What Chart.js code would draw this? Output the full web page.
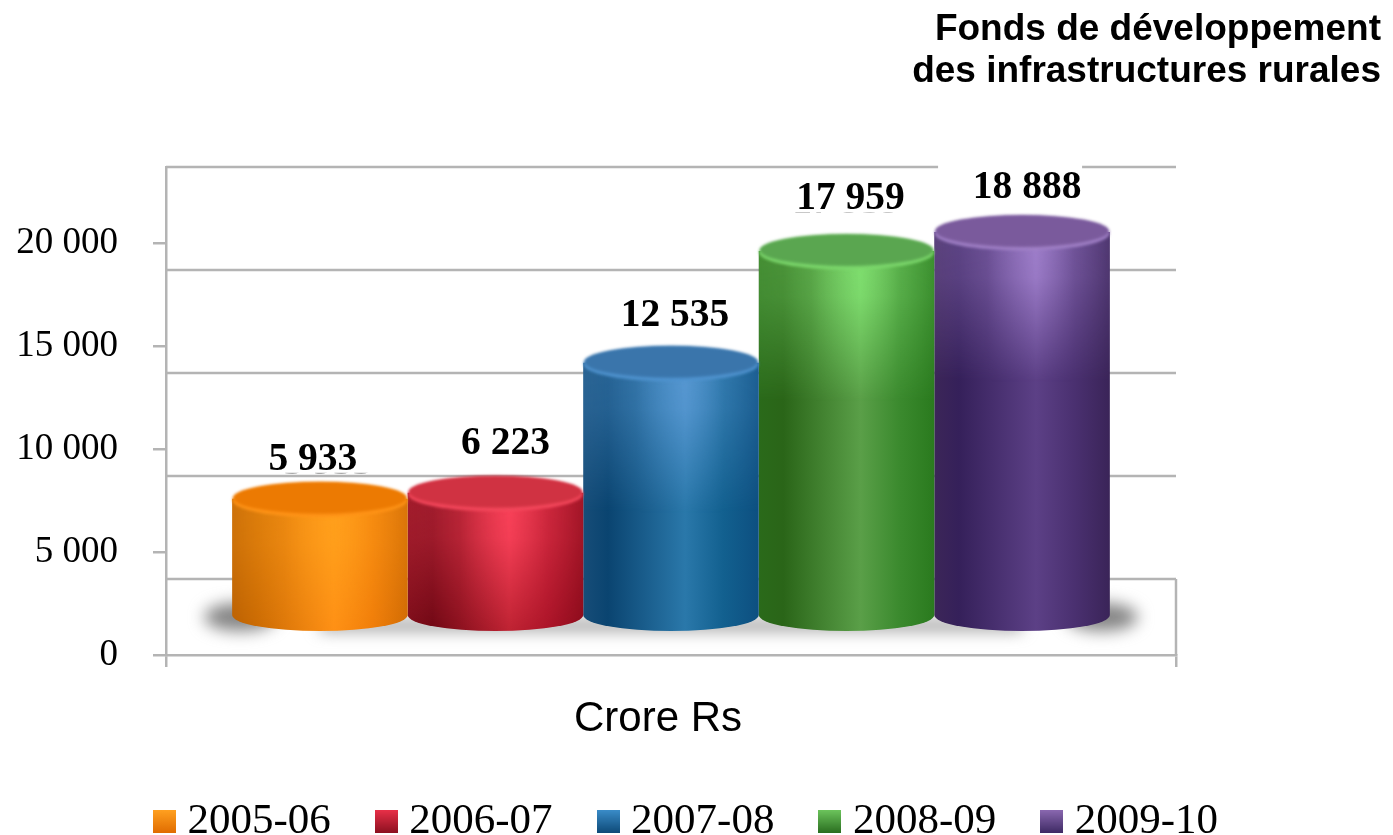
<!DOCTYPE html>
<html lang="fr">
<head>
<meta charset="utf-8">
<style>html,body{margin:0;padding:0;background:#fff}canvas{display:block}</style>
<script src="https://cdn.jsdelivr.net/npm/chart.js@4"></script>
</head>
<body>
<canvas id="c" width="1393" height="835"></canvas>
<script>
const categories = ['Crore Rs'];
const years = ['2005-06', '2006-07', '2007-08', '2008-09', '2009-10'];
const values = [5933, 6223, 12535, 17959, 18888];
const yTickValues = [0, 5000, 10000, 15000, 20000];
const chartTitle = ['Fonds de développement', 'des infrastructures rurales'];

const axisColor = '#b4b4b4';
const serif = '"Liberation Serif"';
const sans = '"Liberation Sans"';
const fmt = v => String(v).replace(/\B(?=(\d{3})+$)/g, ' ');

// Cylinder look for each series
const looks = [
  {stops:['#b85e02','#c86802','#ff8e14','#f07c08','#d06a04'], glow:'255,160,28', top:'#ec7a02', rim:'#ff9418', chip:['#ffa020','#e06c00'], lx:-7, ly:-39},
  {stops:['#7a0c18','#6c0612','#b8202f','#a81226','#8a0a1a'], glow:'250,66,90', top:'#d03242', rim:'#f4485c', chip:['#e83048','#8c1020'], lx:10, ly:-49},
  {stops:['#174d78','#0a4470','#2a78aa','#12608f','#0d4f80'], glow:'88,152,210', top:'#3a75ab', rim:'#4f93cf', chip:['#3a8cc8','#0e4a78'], lx:4, ly:-47},
  {stops:['#2a6a1a','#2a6518','#5a9f48','#3b8a2e','#2a7a1e'], glow:'128,224,112', top:'#5aa650', rim:'#7cd86c', chip:['#6cc45c','#2a6e20'], lx:4, ly:-52},
  {stops:['#3c2658','#35205a','#5c4086','#4a3070','#3a2458'], glow:'160,128,204', top:'#7a5a9c', rim:'#a080c6', chip:['#8a68b0','#3e2a64'], lx:5, ly:-44}
];
const stopAt = [0, .14, .58, .8, 1];
const glowStops = [[0,.32],[.3,.45],[.58,1],[.8,.45],[1,.22]];
const lift = 34, wallShift = 76, capRy = 17, baseRy = 16, glowDepth = 150;

function chip(cols){
  const c = document.createElement('canvas'); c.width = 23; c.height = 23;
  const g = c.getContext('2d');
  const gr = g.createLinearGradient(0,0,0,23);
  gr.addColorStop(0, cols[0]); gr.addColorStop(1, cols[1]);
  g.fillStyle = gr; g.fillRect(0,0,23,23);
  return c;
}

// vertical band of light that fades away from the cap
function glowLayer(w, lk){
  const c = document.createElement('canvas');
  c.width = Math.ceil(w); c.height = glowDepth;
  const g = c.getContext('2d');
  const h = g.createLinearGradient(0, 0, w, 0);
  glowStops.forEach(([p, a]) => h.addColorStop(p, 'rgba(' + lk.glow + ',' + a + ')'));
  g.fillStyle = h; g.fillRect(0, 0, c.width, c.height);
  g.globalCompositeOperation = 'destination-in';
  const v = g.createLinearGradient(0, 0, 0, glowDepth);
  v.addColorStop(0, 'rgba(0,0,0,1)');
  v.addColorStop(.3, 'rgba(0,0,0,.9)');
  v.addColorStop(1, 'rgba(0,0,0,0)');
  g.fillStyle = v; g.fillRect(0, 0, c.width, c.height);
  return c;
}

const cylinders = {
  id: 'cylinders',
  beforeDatasetsDraw(chart){
    const {ctx, chartArea:a, scales:{y}} = chart;
    ctx.save();
    // back wall
    ctx.strokeStyle = axisColor; ctx.lineWidth = 2.5;
    yTickValues.forEach(v => {
      const py = y.getPixelForValue(v) - wallShift;
      ctx.beginPath(); ctx.moveTo(a.left, py); ctx.lineTo(a.right, py); ctx.stroke();
    });
    const floor = y.getPixelForValue(0);
    ctx.beginPath(); ctx.moveTo(a.right, floor - wallShift); ctx.lineTo(a.right, floor); ctx.stroke();
    // floor shadow
    const m0 = chart.getDatasetMeta(0).data[0], m4 = chart.getDatasetMeta(4).data[0];
    ctx.filter = 'blur(8px)';
    ctx.fillStyle = '#848484';
    ctx.beginPath();
    ctx.ellipse(m0.x - m0.width/2 + 8, floor - 38, 36, 14, 0, 0, Math.PI*2);
    ctx.ellipse(m4.x + m4.width/2 - 8, floor - 38, 36, 14, 0, 0, Math.PI*2);
    ctx.fill();
    ctx.fillRect(m0.x, floor - 34, m4.x - m0.x, 9);
    ctx.filter = 'none';
    ctx.restore();
    chart.data.datasets.forEach((d, i) => {
      const el = chart.getDatasetMeta(i).data[0];
      el.options = Object.assign({}, el.options, {backgroundColor: sideGradient(ctx, el, looks[i])});
    });
    ctx.save();
    ctx.translate(0, -lift);
  },
  afterDatasetsDraw(chart){
    const {ctx} = chart;
    ctx.restore();
    chart.data.datasets.forEach((d, i) => {
      const el = chart.getDatasetMeta(i).data[0], lk = looks[i];
      const rx = el.width/2, cx = el.x, top = el.y - lift, bot = el.base - lift;
      ctx.save();
      // rounded foot
      ctx.fillStyle = sideGradient(ctx, el, lk);
      ctx.beginPath(); ctx.ellipse(cx, bot, rx, baseRy, 0, 0, Math.PI); ctx.fill();
      // light on the upper body
      ctx.beginPath();
      ctx.moveTo(cx - rx, top); ctx.lineTo(cx + rx, top); ctx.lineTo(cx + rx, bot);
      ctx.ellipse(cx, bot, rx, baseRy, 0, 0, Math.PI);
      ctx.closePath(); ctx.clip();
      ctx.drawImage(glowLayer(el.width, lk), cx - rx, top);
      ctx.restore();
      // cap
      ctx.save();
      ctx.filter = 'blur(1.5px)';
      ctx.fillStyle = lk.rim;
      ctx.beginPath(); ctx.ellipse(cx, top + 1.5, rx - .5, capRy, 0, 0, Math.PI*2); ctx.fill();
      ctx.fillStyle = lk.top;
      ctx.beginPath(); ctx.ellipse(cx, top - 1, rx - 1, capRy - 1, 0, 0, Math.PI*2); ctx.fill();
      ctx.restore();
    });
    // value labels
    ctx.save();
    ctx.font = 'bold 39.5px ' + serif;
    ctx.textAlign = 'center'; ctx.textBaseline = 'middle';
    chart.data.datasets.forEach((d, i) => {
      const el = chart.getDatasetMeta(i).data[0], lk = looks[i];
      const x = el.x + lk.lx, y = el.y - lift + lk.ly, txt = fmt(d.data[0]);
      if (i === 4) { ctx.fillStyle = '#fff'; ctx.fillRect(x - 89, y - 28, 144, 14); }
      if (i === 0 || i === 3) {
        ctx.save();
        ctx.beginPath(); ctx.rect(x - 70, y + 13, 140, 7); ctx.clip();
        ctx.fillStyle = i === 0 ? '#a8a8a8' : '#c8c8c8';
        ctx.fillText(txt, x + (i === 0 ? 15 : -4), y + 4);
        ctx.restore();
      }
      ctx.fillStyle = '#000';
      ctx.fillText(txt, x, y);
    });
    ctx.restore();
  }
};

function sideGradient(ctx, el, lk){
  const g = ctx.createLinearGradient(el.x - el.width/2, 0, el.x + el.width/2, 0);
  lk.stops.forEach((c, i) => g.addColorStop(stopAt[i], c));
  return g;
}

new Chart(document.getElementById('c'), {
  type: 'bar',
  data: {
    labels: categories,
    datasets: years.map((yr, i) => ({
      label: yr,
      data: [values[i]],
      base: 291,
      backgroundColor: looks[i].stops[2],
      borderWidth: 0,
      barPercentage: 1,
      categoryPercentage: .869
    }))
  },
  plugins: [cylinders],
  options: {
    responsive: false,
    animation: false,
    devicePixelRatio: 1,
    layout: {padding: {left: 0, right: 12, top: 0, bottom: -18}},
    plugins: {
      tooltip: {enabled: false},
      title: {
        display: true,
        text: chartTitle,
        align: 'end',
        color: '#000',
        font: {family: sans, size: 37, weight: 'bold', lineHeight: 42/37},
        padding: {top: 9, bottom: 74}
      },
      legend: {
        position: 'bottom',
        onClick: null,
        labels: {
          usePointStyle: true,
          boxWidth: 3,
          boxHeight: 22,
          padding: 54,
          color: '#222',
          font: {family: serif, size: 43},
          generateLabels: () => years.map((yr, i) => ({
            text: yr, datasetIndex: i, pointStyle: chip(looks[i].chip),
            fillStyle: looks[i].stops[2], strokeStyle: 'transparent', lineWidth: 0, hidden: false
          }))
        }
      }
    },
    scales: {
      x: {
        grid: {drawOnChartArea: false, offset: true, color: axisColor, tickColor: axisColor, tickLength: 12, lineWidth: 2.5},
        border: {color: axisColor, width: 2.5},
        ticks: {color: '#000', padding: 27, labelOffset: -13, font: {family: sans, size: 42}, maxRotation: 0},
        afterFit(s){ s.height = 91; }
      },
      y: {
        min: 0, max: 23690,
        afterBuildTicks(s){ s.ticks = yTickValues.map(value => ({value})); },
        grid: {drawOnChartArea: false, color: axisColor, tickColor: axisColor, tickLength: 13, lineWidth: 2.5},
        border: {color: axisColor, width: 2.5},
        ticks: {color: '#000', padding: 35, font: {family: serif, size: 37}, callback: fmt},
        afterFit(s){ s.width = 166; }
      },
      spacer: {
        position: 'right', min: 0, max: 1,
        grid: {display: false}, border: {display: false},
        ticks: {display: false},
        afterFit(s){ s.width = 205; }
      }
    }
  }
});
</script>
</body>
</html>
